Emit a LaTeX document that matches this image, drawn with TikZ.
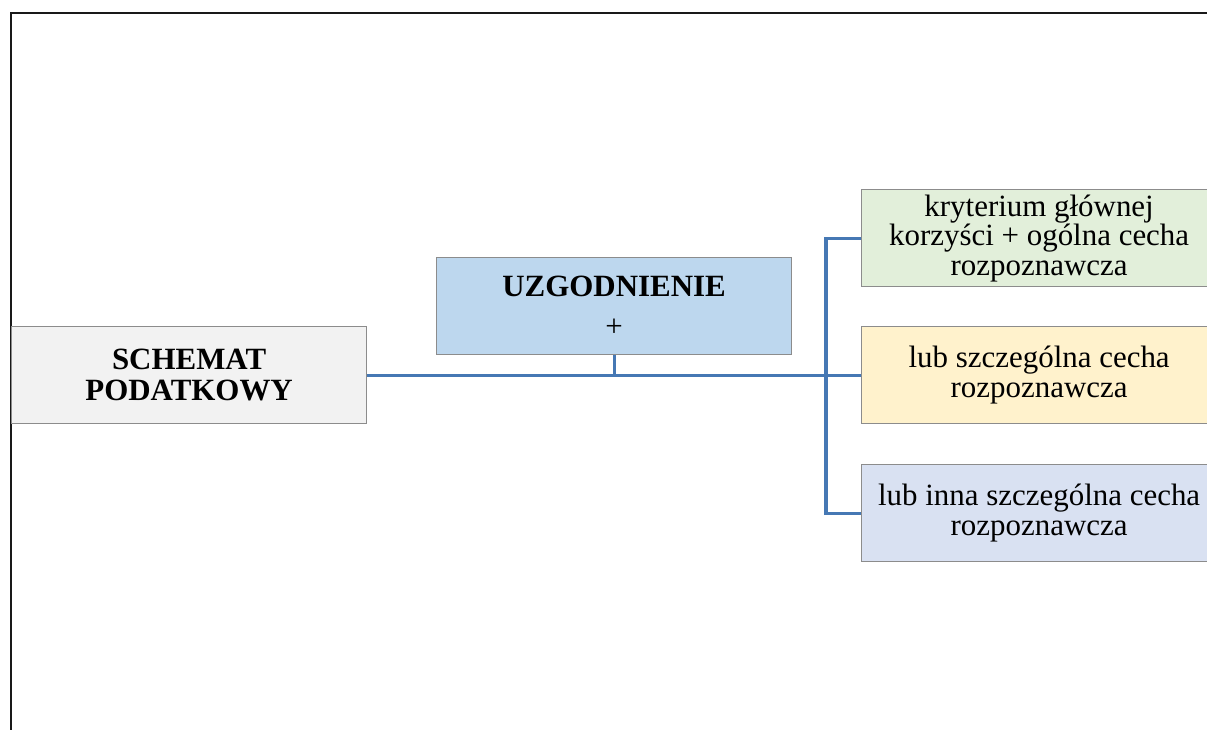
\documentclass[tikz,border=0pt]{standalone}
\usepackage{fontspec}
\setmainfont{Liberation Serif}
\definecolor{conncol}{RGB}{70,120,180}
\definecolor{boxline}{RGB}{140,140,140}
\definecolor{fillgray}{RGB}{242,242,242}
\definecolor{fillblue}{RGB}{189,215,238}
\definecolor{fillgreen}{RGB}{226,239,218}
\definecolor{fillyellow}{RGB}{255,242,204}
\definecolor{fillviolet}{RGB}{217,225,242}
\begin{document}
\begin{tikzpicture}[x=0.025cm,y=-0.025cm,
  box/.style={draw=boxline,line width=0.8pt,anchor=north west,
    minimum width=8.875cm,minimum height=2.425cm,inner sep=2pt,
    align=center,font=\fontsize{22}{21}\selectfont},
  conn/.style={draw=conncol,line width=2.2pt},
  frame/.style={draw=black!90,line width=1.8pt}]
\useasboundingbox (0,0) rectangle (1207,729);
\clip (0,0) rectangle (1207,729);
\draw[frame] (11,740) -- (11,13) -- (1220,13);
\node[box,fill=fillgray,font=\fontsize{22}{22}\selectfont\bfseries] (schemat) at (11,326) {SCHEMAT\\PODATKOWY};
\node[box,fill=fillblue] (uzg) at (436,257) {\textbf{UZGODNIENIE}\\[7pt]+};
\node[box,fill=fillgreen] (green) at (861,189) {kryterium głównej\\korzyści + ogólna cecha\\rozpoznawcza};
\node[box,fill=fillyellow] (yellow) at (861,326) {lub szczególna cecha\\rozpoznawcza};
\node[box,fill=fillviolet] (blue) at (861,464) {lub inna szczególna cecha\\rozpoznawcza};
\coordinate (bx) at (826,375);
\draw[conn] (schemat.east) -- (yellow.west);
\draw[conn] (uzg.south) -- (uzg.south |- schemat.east);
\draw[conn] (green.west) -- (bx |- green.west) -- (bx |- blue.west) -- (blue.west);
\end{tikzpicture}
\end{document}
